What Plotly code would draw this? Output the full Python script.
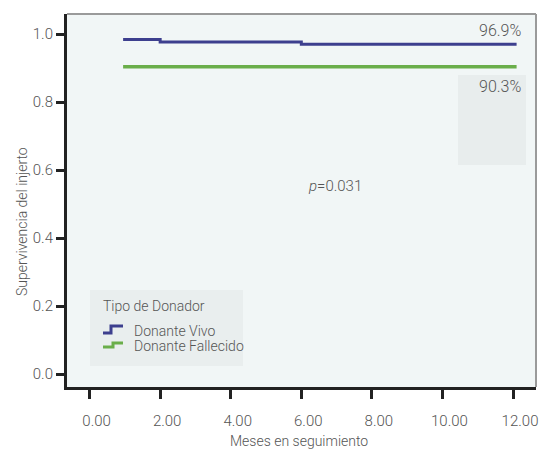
import plotly.graph_objects as go

# Data
vivo_x = [0.95, 2.0, 2.0, 6.0, 6.0, 12.1]
vivo_y = [0.984, 0.984, 0.977, 0.977, 0.970, 0.970]
fall_x = [0.95, 12.1]
fall_y = [0.904, 0.904]
x_ticks = [0, 2, 4, 6, 8, 10, 12]
x_labels = ["0.00", "2.00", "4.00", "6.00", "8.00", "10.00", "12.00"]
y_ticks = [0.0, 0.2, 0.4, 0.6, 0.8, 1.0]
y_labels = ["0.0", "0.2", "0.4", "0.6", "0.8", "1.0"]
legend_names = ["Donante Vivo", "Donante Fallecido"]
colors = ["#3d3f8e", "#6aae4a"]

FONT = "Roboto, Arial, sans-serif"
GRAY = "#555555"
W, H = 542, 459
L, R, T, B = 67, 6, 14, 72
PW, PH = W - L - R, H - T - B


def px(x):
    return (x - L) / PW


def py(y):
    return (H - B - y) / PH


def txt(x, y, text, size=14, xanchor="center", angle=0):
    fig.add_annotation(xref="paper", yref="paper", x=px(x), y=py(y), text=text,
                       showarrow=False, xanchor=xanchor, yanchor="middle", textangle=angle,
                       font=dict(family=FONT, size=size, color=GRAY, weight=300))


fig = go.Figure()
fig.add_trace(go.Scatter(x=vivo_x, y=vivo_y, mode="lines", name=legend_names[0],
                         line=dict(color=colors[0], width=3), showlegend=False))
fig.add_trace(go.Scatter(x=fall_x, y=fall_y, mode="lines", name=legend_names[1],
                         line=dict(color=colors[1], width=3.5), showlegend=False))

# faint gray box at right
fig.add_shape(type="rect", xref="paper", yref="paper", x0=px(458), x1=px(526),
              y0=py(165), y1=py(75), fillcolor="#e8eded", line=dict(width=0), layer="below")

txt(523, 30, "96.9%", size=16, xanchor="right")
txt(523, 86, "90.3%", size=16, xanchor="right")
txt(335, 186, "<i>p</i>=0.031", size=15)

# custom legend
fig.add_shape(type="rect", xref="paper", yref="paper", x0=px(90), x1=px(243),
              y0=py(366), y1=py(290), fillcolor="#e9eeee", line=dict(width=0))
txt(101, 306, "Tipo de Donador", xanchor="left")
for name, yc in zip(legend_names, [331, 346]):
    txt(132, yc, name, xanchor="left")
path_vivo = "M {} {} L {} {} L {} {} L {} {}".format(
    px(103), py(333), px(111), py(333), px(111), py(326), px(123), py(326))
path_fall = "M {} {} L {} {} L {} {} L {} {}".format(
    px(103), py(347), px(113), py(347), px(113), py(343), px(123), py(343))
for p, col in zip([path_vivo, path_fall], colors):
    fig.add_shape(type="path", xref="paper", yref="paper", path=p,
                  line=dict(color=col, width=3))

fig.update_layout(
    width=W, height=H,
    margin=dict(l=L, r=R, t=T, b=B, autoexpand=False),
    paper_bgcolor="white",
    plot_bgcolor="#f1f6f6",
    font=dict(family=FONT, size=15, color=GRAY, weight=300),
    showlegend=False,
    xaxis=dict(
        range=[-0.64, 12.65], tickvals=x_ticks, ticktext=x_labels, automargin=False,
        showgrid=False, zeroline=False, showline=True, linecolor="#222", linewidth=3,
        ticks="outside", ticklen=9, tickwidth=3, tickcolor="#222",
        ticklabelshift=7, ticklabelstandoff=9,
        tickfont=dict(family=FONT, size=15, color=GRAY, weight=300),
    ),
    yaxis=dict(
        range=[-0.038, 1.059], tickvals=y_ticks, ticktext=y_labels, automargin=False,
        showgrid=False, zeroline=False, showline=True, linecolor="#222", linewidth=3,
        ticks="outside", ticklen=8, tickwidth=3, tickcolor="#222",
        tickfont=dict(family=FONT, size=15, color=GRAY, weight=300),
    ),
)
# axis titles
txt(299, 441, "Meses en seguimiento")
txt(22, 222, "Supervivencia del injerto", angle=-90)
# gray top/right border
fig.add_shape(type="line", xref="paper", yref="paper", x0=0, x1=1, y0=1, y1=1,
              line=dict(color="#9a9a9a", width=2))
fig.add_shape(type="line", xref="paper", yref="paper", x0=1, x1=1, y0=0, y1=1,
              line=dict(color="#9a9a9a", width=2))

fig.write_html("out.html", config={"displayModeBar": False},
               post_script="document.body.style.margin='0';document.body.style.overflow='hidden';")
